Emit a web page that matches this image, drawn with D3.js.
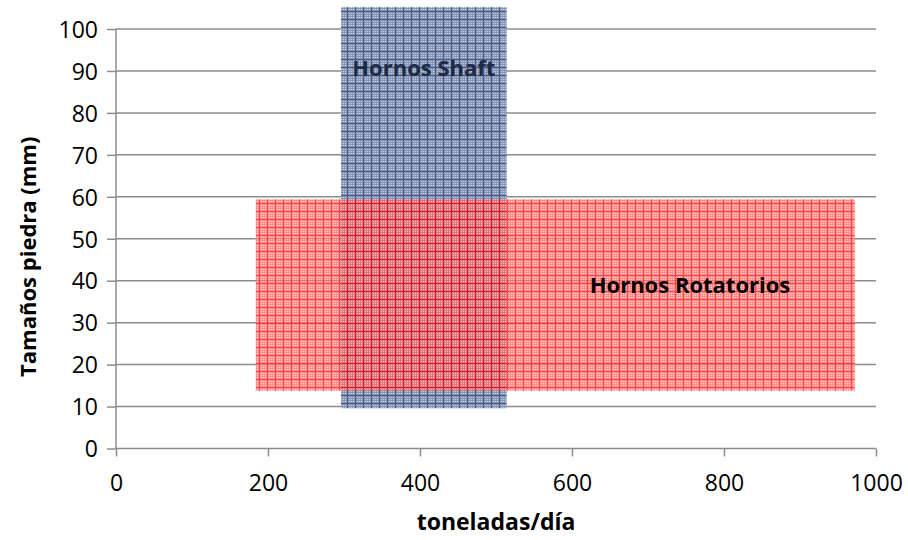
<!DOCTYPE html>
<html>
<head>
<meta charset="utf-8">
<script src="https://cdn.jsdelivr.net/npm/d3@7"></script>
<style>
  html, body { margin: 0; padding: 0; background: #fff; }
  svg { display: block; }
  text { font-family: "Open Sans", "Liberation Sans", sans-serif; }
</style>
</head>
<body>
<div id="chart"></div>
<script>
// Operating ranges of lime kilns: capacity (t/day) vs. stone size (mm)
const kilnNames = ["Hornos Shaft", "Hornos Rotatorios"];
const capacityMin = [296, 184];
const capacityMax = [514, 972];
const stoneMin = [9.6, 13.8];
const stoneMax = [105.2, 59.4];

const xTicks = [0, 200, 400, 600, 800, 1000];
const yTicks = [0, 10, 20, 30, 40, 50, 60, 70, 80, 90, 100];
const xTitle = "toneladas/día";
const yTitle = "Tamaños piedra (mm)";

const W = 908, H = 540;
const plot = { left: 116, right: 876, top: 29, bottom: 448.5 };

const svg = d3.select("#chart").append("svg")
  .attr("width", W).attr("height", H);

const x = d3.scaleLinear().domain([0, 1000]).range([plot.left, plot.right]);
const y = d3.scaleLinear().domain([0, 100]).range([plot.bottom, plot.top]);

// Plaid fill patterns for the two ranges
const defs = svg.append("defs");
function plaid(id, base, line, dot) {
  const p = defs.append("pattern")
    .attr("id", id).attr("patternUnits", "userSpaceOnUse")
    .attr("width", 8).attr("height", 8);
  p.append("rect").attr("width", 8).attr("height", 8).attr("fill", base);
  for (let i = 1; i < 8; i += 2) {
    for (let j = 1; j < 8; j += 2) {
      p.append("rect").attr("x", i).attr("y", j).attr("width", 1).attr("height", 1)
        .attr("fill", dot);
    }
  }
  p.append("rect").attr("x", 0).attr("y", 3).attr("width", 8).attr("height", 1).attr("fill", line);
  p.append("rect").attr("x", 3).attr("y", 0).attr("width", 1).attr("height", 8).attr("fill", line);
}
plaid("plaidBlue", "#8697b6", "#46598a", "#c3ccdc");
plaid("plaidRed", "#ff6e6e", "#ff1010", "#ffbcbc");

// Horizontal gridlines
svg.append("g")
  .selectAll("line").data(yTicks.filter(d => d > 0)).join("line")
  .attr("x1", plot.left).attr("x2", plot.right)
  .attr("y1", d => y(d)).attr("y2", d => y(d))
  .attr("stroke", "#8c8c8c").attr("stroke-width", 1.5);

// Range rectangles
const kilns = kilnNames.map((name, i) => ({
  name, x0: capacityMin[i], x1: capacityMax[i], y0: stoneMin[i], y1: stoneMax[i]
}));

svg.append("rect")
  .attr("x", x(kilns[0].x0)).attr("width", x(kilns[0].x1) - x(kilns[0].x0))
  .attr("y", y(kilns[0].y1)).attr("height", y(kilns[0].y0) - y(kilns[0].y1))
  .attr("fill", "url(#plaidBlue)");

svg.append("rect")
  .attr("x", x(kilns[1].x0)).attr("width", x(kilns[1].x1) - x(kilns[1].x0))
  .attr("y", y(kilns[1].y1)).attr("height", y(kilns[1].y0) - y(kilns[1].y1))
  .attr("fill", "url(#plaidRed)").attr("opacity", 0.78);

// Axes
const yAxis = d3.axisLeft(y).tickValues(yTicks).tickSize(9).tickPadding(9)
  .tickFormat(d3.format("d"));
const gy = svg.append("g").attr("transform", `translate(${plot.left},0)`).call(yAxis);
const xAxis = d3.axisBottom(x).tickValues(xTicks).tickSize(8).tickPadding(18)
  .tickFormat(d3.format("d"));
const gx = svg.append("g").attr("transform", `translate(0,${plot.bottom})`).call(xAxis);

[gx, gy].forEach(g => {
  g.select(".domain").attr("stroke", "#8c8c8c").attr("stroke-width", 1.5);
  g.selectAll(".tick line").attr("stroke", "#8c8c8c").attr("stroke-width", 1.5);
  g.selectAll(".tick text")
    .attr("font-family", "'Open Sans', sans-serif")
    .attr("font-size", 23).attr("fill", "#000");
});
gy.select(".domain").attr("d", `M0,${plot.bottom}V${plot.top}`);
gx.select(".domain").attr("d", `M${plot.left},0H${plot.right}`);
gy.selectAll(".tick text").attr("dy", "0.36em");

// Range labels
svg.append("text")
  .attr("x", (x(kilns[0].x0) + x(kilns[0].x1)) / 2).attr("y", 76)
  .attr("text-anchor", "middle").attr("font-size", 22).attr("font-weight", "bold")
  .attr("fill", "#1f2a44").text(kilns[0].name);

svg.append("text")
  .attr("x", 690).attr("y", 293)
  .attr("text-anchor", "middle").attr("font-size", 22).attr("font-weight", "bold")
  .attr("fill", "#000").text(kilns[1].name);

// Axis titles
svg.append("text")
  .attr("x", (plot.left + plot.right) / 2).attr("y", 530)
  .attr("text-anchor", "middle").attr("font-size", 23).attr("font-weight", "bold")
  .attr("fill", "#000").text(xTitle);

svg.append("text")
  .attr("transform", `translate(36,${(plot.top + plot.bottom) / 2 + 18}) rotate(-90)`)
  .attr("text-anchor", "middle").attr("font-size", 22).attr("font-weight", "bold")
  .attr("fill", "#000").text(yTitle);
</script>
</body>
</html>
